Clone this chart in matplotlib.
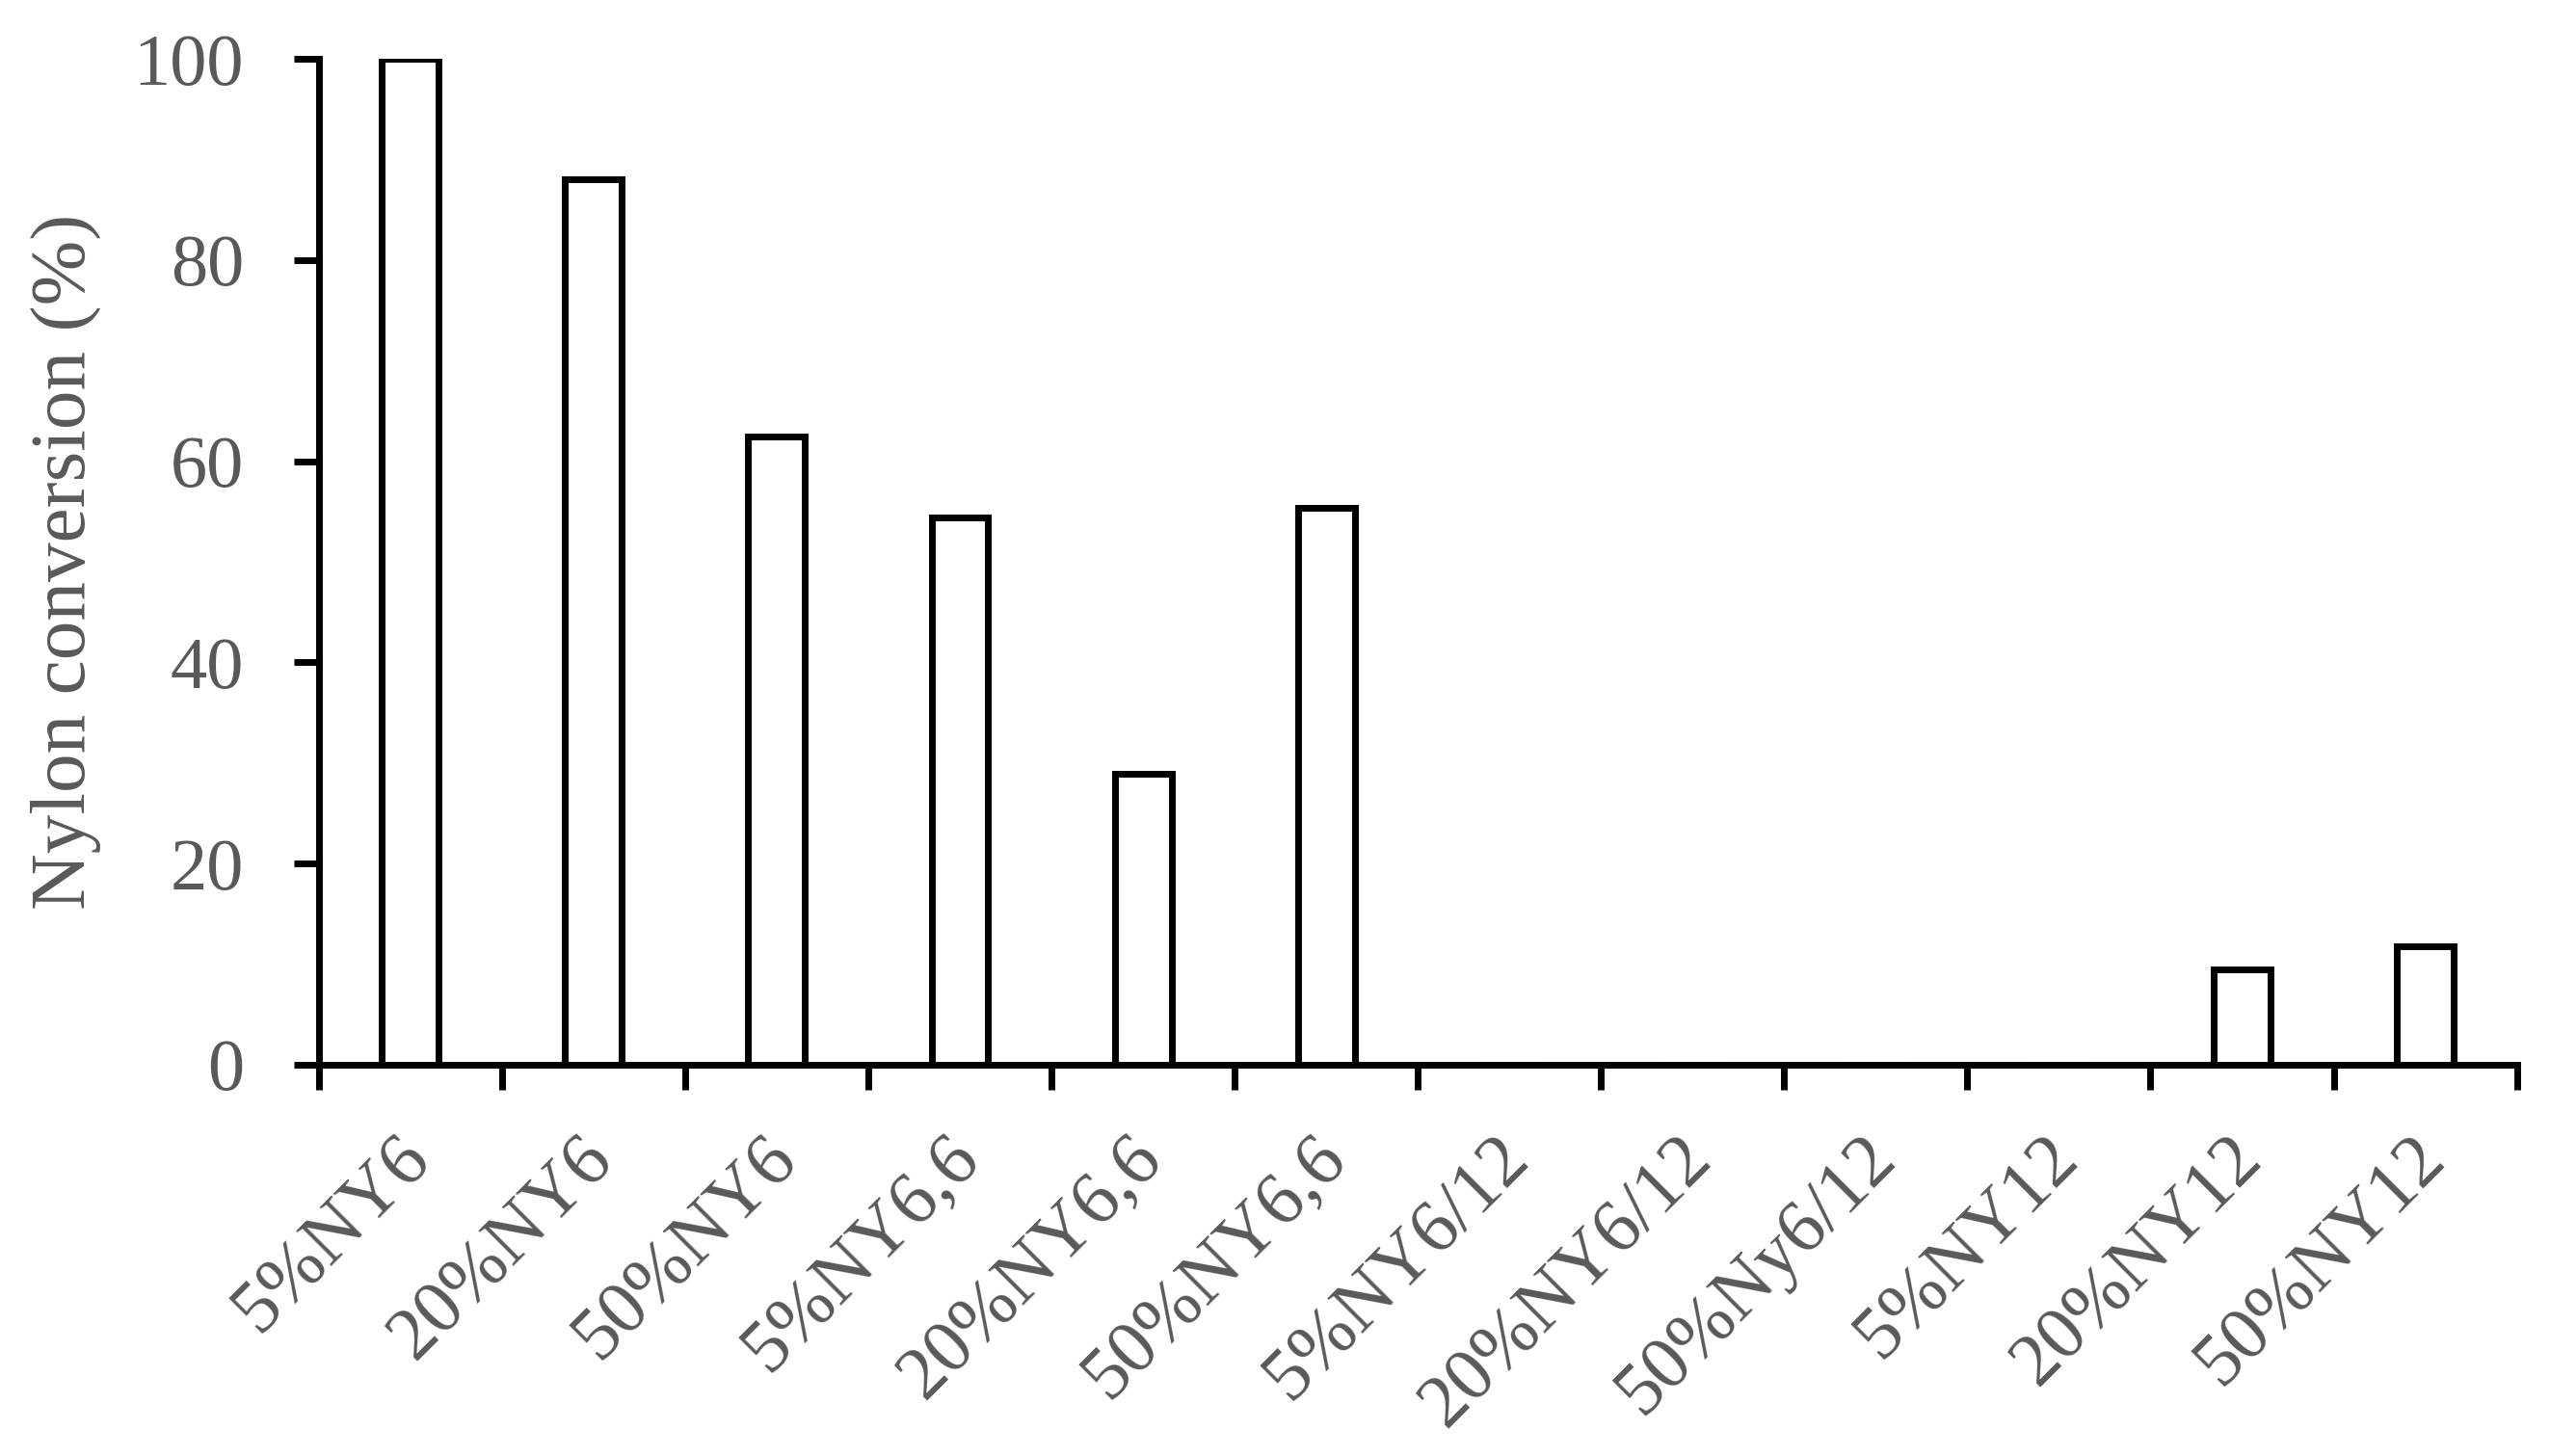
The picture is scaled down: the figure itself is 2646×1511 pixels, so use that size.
import numpy as np
import matplotlib
matplotlib.use("Agg")
import matplotlib.pyplot as plt
import matplotlib.transforms as mtransforms

categories = ["5%NY6", "20%NY6", "50%NY6", "5%NY6,6", "20%NY6,6", "50%NY6,6",
              "5%NY6/12", "20%NY6/12", "50%Ny6/12", "5%NY12", "20%NY12", "50%NY12"]
conversion = [100, 88, 62.5, 54.4, 28.9, 55.4, 0, 0, 0, 0, 9.5, 11.8]
yticks = [0, 20, 40, 60, 80, 100]

grey = "#595959"
plt.rcParams["font.family"] = ["Liberation Serif", "DejaVu Serif"]

fig = plt.figure(figsize=(26.46, 15.11), dpi=100)
ax = fig.add_axes([0.125, 0.2687, 0.862, 0.6909])

x = np.arange(len(categories))
ax.bar(x, conversion, width=0.31, color="white", edgecolor="black", linewidth=5, zorder=2)

ax.set_xlim(-0.5, len(categories) - 0.5)
ax.set_ylim(0, 100)

# y axis
ax.set_yticks(yticks)
ax.set_yticklabels([str(v) for v in yticks])
ax.tick_params(axis="y", direction="out", length=19, width=5, pad=37,
               labelsize=55, labelcolor=grey, color="black")

# x axis: ticks on category boundaries, labels on centers
ax.set_xticks(np.arange(-0.5, len(categories)), [])
ax.tick_params(axis="x", which="major", direction="out", length=19, width=5, color="black")
ax.set_xticks(x, categories, minor=True)
ax.tick_params(axis="x", which="minor", length=0, pad=62, labelsize=56, labelcolor=grey)
shift = mtransforms.ScaledTranslation(9 / 100, 0, fig.dpi_scale_trans)
for lab in ax.get_xticklabels(minor=True):
    lab.set_rotation(45)
    lab.set_ha("right")
    lab.set_va("center")
    lab.set_rotation_mode("anchor")
    lab.set_transform(lab.get_transform() + shift)

for side in ["top", "right"]:
    ax.spines[side].set_visible(False)
for side in ["left", "bottom"]:
    ax.spines[side].set_linewidth(5)

ax.set_ylabel("Nylon conversion (%)", fontsize=58.5, color=grey)
ax.yaxis.set_label_coords(-0.099, 0.5)

fig.savefig("out.png", dpi=100)
